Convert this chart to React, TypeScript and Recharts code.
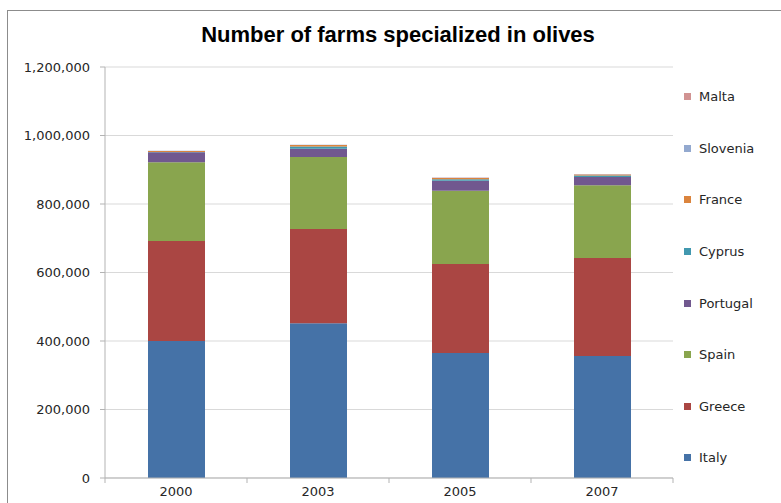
import { BarChart, Bar, XAxis, YAxis, CartesianGrid, Legend } from 'recharts';

const years = ['2000', '2003', '2005', '2007'];

const italy = [400000, 452000, 365000, 356000];
const greece = [292000, 275000, 260000, 286000];
const spain = [230000, 210000, 214000, 213000];
const portugal = [29000, 24000, 29000, 24000];
const cyprus = [1000, 7000, 4000, 4000];
const france = [3000, 4000, 4000, 3000];
const slovenia = [500, 1000, 1000, 1000];
const malta = [200, 300, 300, 300];

const yTicks = [0, 200000, 400000, 600000, 800000, 1000000, 1200000];

// stacking order, bottom first
const series = [
  { name: 'Italy', values: italy, color: '#4572A7' },
  { name: 'Greece', values: greece, color: '#AA4643' },
  { name: 'Spain', values: spain, color: '#89A54E' },
  { name: 'Portugal', values: portugal, color: '#71588F' },
  { name: 'Cyprus', values: cyprus, color: '#4198AF' },
  { name: 'France', values: france, color: '#DB843D' },
  { name: 'Slovenia', values: slovenia, color: '#93A9CF' },
  { name: 'Malta', values: malta, color: '#D19392' },
];

const data = years.map((year, i) => {
  const row: Record<string, string | number> = { year };
  series.forEach(s => {
    row[s.name] = s.values[i];
  });
  return row;
});

const font = '"DejaVu Sans", sans-serif';
const axisGray = '#b3b3b3';

// year label plus the small tick marks on the category boundaries
function YearTick({ x, y, payload, index }: any) {
  const half = payload?.offset || 0;
  return (
    <g>
      {index === 0 && half > 0 && (
        <line x1={x - half} x2={x - half} y1={y} y2={y + 5} stroke={axisGray} />
      )}
      {half > 0 && <line x1={x + half} x2={x + half} y1={y} y2={y + 5} stroke={axisGray} />}
      <text
        x={x}
        y={y + 9}
        dy="0.71em"
        textAnchor="middle"
        fontFamily={font}
        fontSize={13}
        fill="#262626"
      >
        {payload.value}
      </text>
    </g>
  );
}

function LegendBox({ payload }: any) {
  const items = [...(payload || [])].sort(
    (a, b) =>
      series.findIndex(s => s.name === b.value) - series.findIndex(s => s.name === a.value)
  );
  return (
    <div style={{ fontFamily: font, fontSize: 13, color: '#262626' }}>
      {items.map(item => (
        <div
          key={item.value}
          style={{ height: 51.6, display: 'flex', alignItems: 'center' }}
        >
          <span
            style={{
              display: 'inline-block',
              width: 7,
              height: 7,
              background: item.color,
              marginRight: 8,
            }}
          />
          {item.value}
        </div>
      ))}
    </div>
  );
}

export default function App() {
  return (
    <div
      style={{
        position: 'fixed',
        left: 0,
        top: 0,
        width: 781,
        height: 503,
        background: '#fff',
        overflow: 'hidden',
      }}
    >
      <div
        style={{
          position: 'absolute',
          left: 7,
          top: 10,
          width: 800,
          height: 520,
          border: '1px solid #8c8c8c',
        }}
      />
      <div
        style={{
          position: 'absolute',
          left: 0,
          top: 22,
          width: 796,
          textAlign: 'center',
          fontFamily: '"Liberation Sans", Arial, sans-serif',
          fontWeight: 'bold',
          fontSize: 22,
          color: '#000',
        }}
      >
        Number of farms specialized in olives
      </div>
      <div style={{ position: 'absolute', left: 0, top: 0 }}>
        <BarChart
          width={781}
          height={503}
          data={data}
          margin={{ top: 67, right: 11, left: 0, bottom: 0 }}
        >
          <CartesianGrid vertical={false} stroke="#d9d9d9" />
          <XAxis
            dataKey="year"
            height={25}
            axisLine={{ stroke: axisGray }}
            tickLine={false}
            tickSize={0}
            tickMargin={0}
            tick={<YearTick />}
          />
          <YAxis
            width={105}
            domain={[0, 1200000]}
            ticks={yTicks}
            interval={0}
            tickFormatter={(v: number) => v.toLocaleString('en-US')}
            axisLine={{ stroke: axisGray }}
            tickLine={{ stroke: axisGray }}
            tickSize={5}
            tickMargin={10}
            tick={{ fontFamily: font, fontSize: 13, fill: '#262626' }}
          />
          <Legend
            layout="vertical"
            align="right"
            verticalAlign="middle"
            content={<LegendBox />}
            wrapperStyle={{ position: 'absolute', left: 684, top: 71, width: 97 }}
          />
          {series.map(s => (
            <Bar
              key={s.name}
              dataKey={s.name}
              stackId="farms"
              fill={s.color}
              barSize={57}
              isAnimationActive={false}
            />
          ))}
        </BarChart>
      </div>
    </div>
  );
}
